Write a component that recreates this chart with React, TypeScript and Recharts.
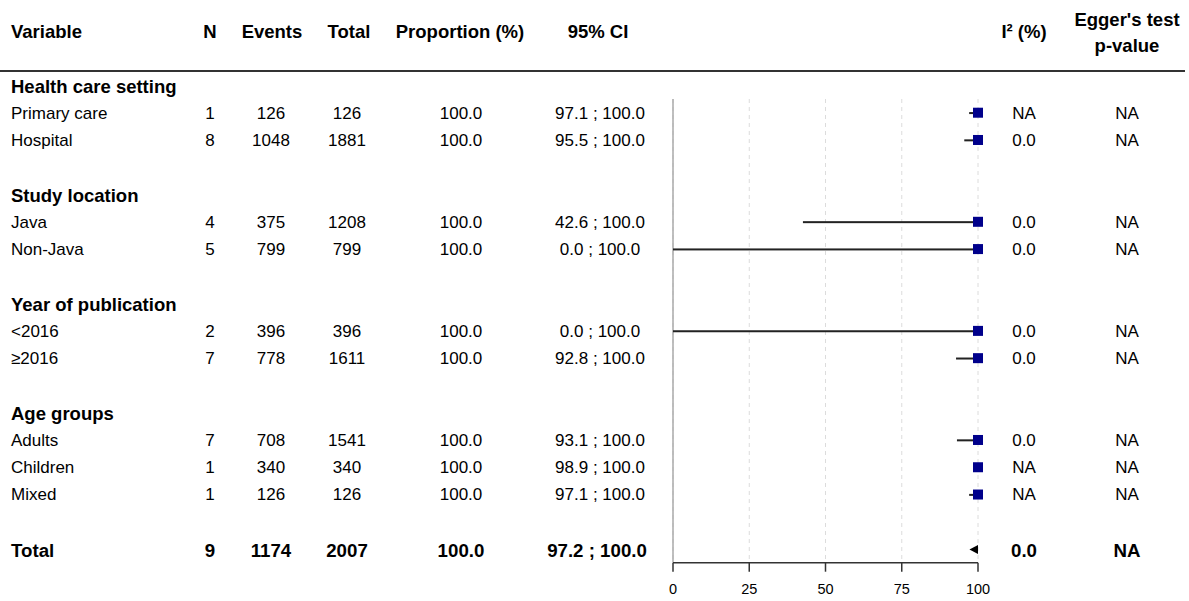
import React from 'react';
import { ComposedChart, Bar, Line, XAxis, YAxis, CartesianGrid } from 'recharts';

const variables = ["Health care setting", "Primary care", "Hospital", "", "Study location", "Java", "Non-Java", "", "Year of publication", "<2016", "≥2016", "", "Age groups", "Adults", "Children", "Mixed", "", "Total"];
const rowKinds = ["group", "item", "item", "blank", "group", "item", "item", "blank", "group", "item", "item", "blank", "group", "item", "item", "item", "blank", "total"];
const nStudies = [null, 1, 8, null, null, 4, 5, null, null, 2, 7, null, null, 7, 1, 1, null, 9];
const events = [null, 126, 1048, null, null, 375, 799, null, null, 396, 778, null, null, 708, 340, 126, null, 1174];
const totals = [null, 126, 1881, null, null, 1208, 799, null, null, 396, 1611, null, null, 1541, 340, 126, null, 2007];
const proportions = [null, 100.0, 100.0, null, null, 100.0, 100.0, null, null, 100.0, 100.0, null, null, 100.0, 100.0, 100.0, null, 100.0];
const ciLower = [null, 97.1, 95.5, null, null, 42.6, 0.0, null, null, 0.0, 92.8, null, null, 93.1, 98.9, 97.1, null, 97.2];
const ciUpper = [null, 100.0, 100.0, null, null, 100.0, 100.0, null, null, 100.0, 100.0, null, null, 100.0, 100.0, 100.0, null, 100.0];
const i2Values = [null, "NA", "0.0", null, null, "0.0", "0.0", null, null, "0.0", "0.0", null, null, "0.0", "NA", "NA", null, "0.0"];
const eggerValues = [null, "NA", "NA", null, null, "NA", "NA", null, null, "NA", "NA", null, null, "NA", "NA", "NA", null, "NA"];
const xTicks = [0, 25, 50, 75, 100];

const FONT = '"Liberation Sans", Arial, Helvetica, sans-serif';

const rows = variables.map((v, i) => ({
  key: `r${i}`,
  idx: i,
  kind: rowKinds[i],
  ci: ciLower[i] != null && ciUpper[i] != null ? [ciLower[i], ciUpper[i]] : null,
  est: rowKinds[i] === 'item' ? proportions[i] : null,
}));

const COL = { n: 210, events: 271, total: 347, prop: 461, ci: 600, i2: 1024, egger: 1127 };

const renderRowTick = (props: any) => {
  const { y, payload, index } = props;
  let i = rows.findIndex((r) => r.key === payload?.value);
  if (i < 0 && typeof payload?.index === 'number') i = payload.index;
  if (i < 0 && typeof index === 'number') i = index;
  const k = `t${i}`;
  if (i < 0 || i >= rows.length) return <g key={k} />;
  const kind = rowKinds[i];
  if (kind === 'blank') return <g key={k} />;
  if (kind === 'group') {
    return (
      <text key={k} x={11} y={y + 1} dy="0.35em" fontSize={18.5} fontWeight="bold" fill="#000" fontFamily={FONT}>
        {variables[i]}
      </text>
    );
  }
  const bold = kind === 'total';
  const fs = bold ? 18.7 : 17;
  const common = { y: bold ? y + 1 : y, dy: '0.35em', fontSize: fs, fontWeight: bold ? 'bold' : 'normal', fill: '#000', fontFamily: FONT } as any;
  const fmt = (v: number | null) => (v == null ? '' : v.toFixed(1));
  return (
    <g key={k}>
      <text x={11} {...common}>{variables[i]}</text>
      <text x={COL.n} textAnchor="middle" {...common}>{nStudies[i]}</text>
      <text x={COL.events} textAnchor="middle" {...common}>{events[i]}</text>
      <text x={COL.total} textAnchor="middle" {...common}>{totals[i]}</text>
      <text x={COL.prop} textAnchor="middle" {...common}>{fmt(proportions[i])}</text>
      <text x={bold ? 597 : COL.ci} textAnchor="middle" {...common}>{`${fmt(ciLower[i])} ; ${fmt(ciUpper[i])}`}</text>
      <text x={COL.i2} textAnchor="middle" {...common}>{i2Values[i]}</text>
      <text x={COL.egger} textAnchor="middle" {...common}>{eggerValues[i]}</text>
    </g>
  );
};

const CiShape = (props: any) => {
  const { x, y, width, height, payload } = props;
  if (x == null || width == null || payload == null || payload.ci == null) return <g />;
  const cy = y + height / 2;
  if (payload.kind === 'total') {
    return <polygon points={`${x},${cy} ${x + width},${cy - 4.5} ${x + width},${cy + 4.5}`} fill="#000" />;
  }
  return <rect x={x} y={cy - 1} width={width} height={2} fill="#222" />;
};

const SquareDot = (props: any) => {
  const { cx, cy, value, index } = props;
  if (cx == null || cy == null || value == null || Number.isNaN(cx)) return <g key={`d${index}`} />;
  const s = 10;
  return <rect key={`d${index}`} x={cx - s / 2} y={cy - s / 2} width={s} height={s} fill="#00008B" />;
};

export default function App() {
  return (
    <div style={{ position: 'absolute', left: 0, top: 0, width: 1189, height: 601, background: '#fff' }}>
      <ComposedChart
        width={1189}
        height={601}
        data={rows}
        layout="vertical"
        margin={{ top: 71.8, right: 211, bottom: 8.3, left: 672 }}
      >
        <CartesianGrid horizontal={false} vertical strokeDasharray="4 4" stroke="#dcdcdc" y={99} height={463.6} />
        <CartesianGrid
          horizontal={false}
          vertical
          stroke="#aaaaaa"
          strokeWidth={1.5}
          y={99}
          height={463.6}
          verticalCoordinatesGenerator={(args: any) => [args?.offset?.left ?? 673]}
        />
        <XAxis
          type="number"
          domain={[0, 100]}
          ticks={xTicks}
          interval={0}
          height={30}
          tickSize={9}
          tickMargin={12}
          axisLine={{ stroke: '#333', strokeWidth: 1.5 }}
          tickLine={{ stroke: '#333', strokeWidth: 1.5 }}
          tick={{ fill: '#000', fontSize: 14.5, fontFamily: FONT }}
        />
        <YAxis
          type="category"
          dataKey="key"
          width={1}
          axisLine={false}
          tickLine={false}
          interval={0}
          tick={renderRowTick}
        />
        <Bar dataKey="ci" barSize={10} shape={<CiShape />} isAnimationActive={false} />
        <Line dataKey="est" stroke="none" dot={SquareDot} activeDot={false} isAnimationActive={false} legendType="none" />
      </ComposedChart>
      <svg width={1189} height={80} style={{ position: 'absolute', left: 0, top: 0, pointerEvents: 'none' }}>
        <g fontFamily={FONT} fontWeight="bold" fontSize={18.5} fill="#000">
          <text x={11} y={32} dy="0.35em">Variable</text>
          <text x={210} y={32} dy="0.35em" textAnchor="middle">N</text>
          <text x={272} y={32} dy="0.35em" textAnchor="middle">Events</text>
          <text x={349} y={32} dy="0.35em" textAnchor="middle">Total</text>
          <text x={460} y={32} dy="0.35em" textAnchor="middle">Proportion (%)</text>
          <text x={598} y={32} dy="0.35em" textAnchor="middle">95% CI</text>
          <text x={1024} y={32} dy="0.35em" textAnchor="middle">I² (%)</text>
          <text x={1127} y={20} dy="0.35em" textAnchor="middle">Egger's test</text>
          <text x={1127} y={46} dy="0.35em" textAnchor="middle">p-value</text>
        </g>
        <line x1={0} x2={1185} y1={71} y2={71} stroke="#333" strokeWidth={2} />
      </svg>
    </div>
  );
}
